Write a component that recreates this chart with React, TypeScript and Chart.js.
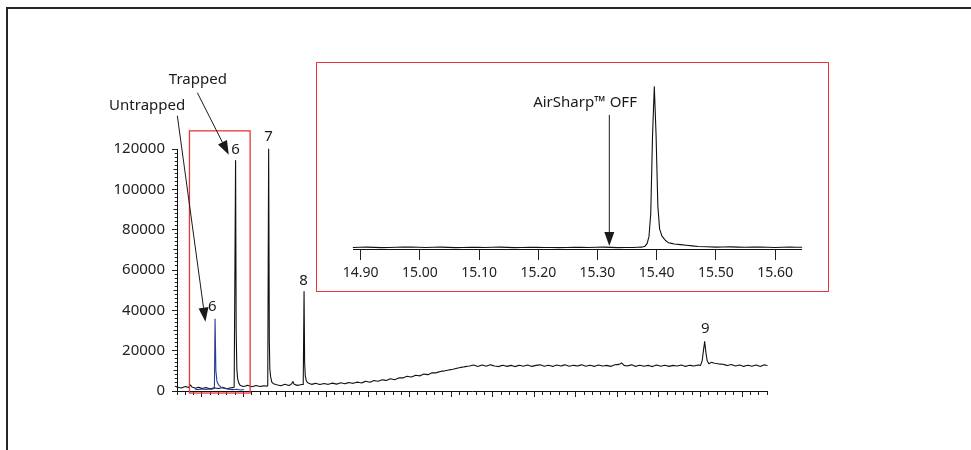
import { useEffect, useRef } from 'react';
import { Chart, registerables } from 'chart.js';
Chart.register(...registerables);

// ---- Main chromatogram (retention time, min / abundance) ----
const trappedTime = [
  14.70, 14.75, 14.80, 14.84, 14.86, 14.88, 14.92, 14.96, 15.00, 15.05, 15.10, 15.15, 15.20, 15.25, 15.30, 15.35, 15.388,
  15.405, 15.412, 15.42, 15.43, 15.445, 15.46,
  15.50, 15.55, 15.60, 15.65, 15.70, 15.75, 15.78,
  15.792, 15.803, 15.811, 15.817, 15.827, 15.84, 15.86,
  15.90, 15.95, 16.00, 16.05, 16.08, 16.095, 16.11, 16.15, 16.20,
  16.219, 16.229, 16.236, 16.244, 16.255, 16.268, 16.28,
  16.32, 16.37, 16.42, 16.47, 16.52, 16.57, 16.62, 16.67, 16.72, 16.77, 16.82, 16.87, 16.92, 16.97,
  17.02, 17.07, 17.12, 17.17, 17.22, 17.27, 17.32, 17.37, 17.42, 17.47, 17.52, 17.57, 17.62, 17.67, 17.72, 17.77,
  17.82, 17.87, 17.92, 17.97, 18.02, 18.07, 18.12, 18.17, 18.22, 18.27, 18.32, 18.37, 18.42, 18.47, 18.52, 18.57,
  18.62, 18.67, 18.72, 18.77, 18.82, 18.87, 18.92, 18.97, 19.02, 19.07, 19.12, 19.17, 19.22, 19.27, 19.32, 19.37,
  19.42, 19.47, 19.52, 19.57, 19.62, 19.67, 19.72, 19.77, 19.82, 19.87, 19.92, 19.97, 20.02, 20.05, 20.08, 20.12,
  20.17, 20.22, 20.27, 20.32, 20.37, 20.42, 20.47, 20.52, 20.57, 20.62, 20.67, 20.72, 20.77, 20.82, 20.87, 20.92,
  20.97, 21.00, 21.02, 21.035, 21.05, 21.065, 21.08, 21.10, 21.13, 21.17, 21.22, 21.27, 21.32, 21.37, 21.42, 21.47,
  21.52, 21.57, 21.62, 21.67, 21.72, 21.77, 21.80,
];
const trappedSignal = [
  1900, 1500, 2200, 1700, 3100, 2000, 1400, 1900, 1200, 1700, 1100, 1600, 1200, 1800, 1100, 1600, 1800,
  114300, 30000, 11000, 6000, 3800, 2800,
  2200, 2800, 2100, 2700, 2200, 2600, 2400,
  2600, 120000, 25000, 11000, 7000, 4500, 3600,
  3100, 2600, 3300, 2700, 3600, 4700, 3300, 2800, 3200,
  3200, 49300, 14000, 7500, 5200, 4300, 4000,
  3300, 3800, 3200, 3700, 3300, 3900, 3400, 4100, 3600, 4200, 3800, 4400, 4000, 4800,
  4300, 5200, 4800, 5600, 5200, 6100, 5600, 6500, 6500, 7300, 6900, 7800, 7500, 8400, 8100, 9000,
  9000, 9700, 10000, 10400, 10800, 11300, 11700, 12100, 12400, 12900, 12200, 12900, 12300, 13000, 12400, 12100,
  12800, 12200, 12700, 12100, 12800, 12300, 12900, 12200, 12700, 13000, 12300, 12800, 12200, 12900, 12400, 13000,
  12300, 12800, 12400, 13000, 12300, 12800, 12200, 12900, 12400, 12700, 12200, 13000, 13200, 13900, 12700, 12400,
  13000, 12200, 12800, 12300, 12700, 12100, 12900, 12300, 12800, 12200, 12700, 12400, 12900, 12200, 12800, 12400,
  12900, 12700, 15000, 20000, 24500, 19000, 15000, 13500, 14200, 13800, 13400, 13300, 12600, 13100, 12400, 12900,
  12200, 12800, 12300, 12900, 12200, 13000, 12600,
];
const untrappedTime = [
  14.92, 14.95, 15.00, 15.05, 15.10, 15.13, 15.150, 15.158, 15.168, 15.18, 15.20, 15.23, 15.27, 15.32, 15.37, 15.42, 15.47, 15.50,
];
const untrappedSignal = [
  900, 700, 1000, 800, 900, 1000, 1200, 35700, 10000, 5000, 3000, 1900, 1300, 900, 700, 800, 500, 700,
];

// ---- Inset (zoom on trapped peak 6) ----
const insetTime = [
  14.8875, 14.91, 14.935, 14.96, 14.985, 15.01, 15.035, 15.06, 15.085, 15.11, 15.135, 15.16, 15.185, 15.21, 15.235,
  15.26, 15.285, 15.31, 15.335, 15.36, 15.375, 15.38, 15.384, 15.387, 15.39, 15.393, 15.396, 15.399, 15.402, 15.405,
  15.409, 15.415, 15.42, 15.43, 15.45, 15.47, 15.50, 15.525, 15.55, 15.575, 15.60, 15.625, 15.645,
];
const insetSignal = [
  1100, 1300, 1000, 1200, 1400, 1100, 1300, 1000, 1200, 1100, 1300, 1000, 1200, 1100, 1000,
  1200, 1100, 1300, 1000, 1100, 1300, 1800, 4000, 8700, 25000, 80000, 114300, 80000, 30000, 14000,
  9000, 6000, 4400, 3500, 2600, 1800, 1300, 1500, 1200, 1400, 1100, 1300, 1200,
];
const insetTickValues = [14.9, 15.0, 15.1, 15.2, 15.3, 15.4, 15.5, 15.6];

// ---- Annotations ----
const peakLabelText = ['6', '6', '7', '8', '9'];
const peakLabelTime = [15.126, 15.404, 15.803, 16.222, 21.056];
const peakLabelSignal = [41700, 119600, 126000, 54600, 30800];

const calloutText = ['Trapped', 'Untrapped'];
const calloutTime = [14.951, 14.341];
const calloutSignal = [154300, 141400];
const arrowFromTime = [14.945, 14.704];
const arrowFromSignal = [147900, 136500];
const arrowToTime = [15.323, 15.042];
const arrowToSignal = [117100, 34400];

const zoomBoxTime = [14.85, 15.58];
const zoomBoxSignal = [-1000, 129000];

const insetNote = 'AirSharp™ OFF';
const insetNoteTime = 15.279;
const insetNoteSignal = 103000;
const insetArrowTime = 15.32;
const insetArrowSignal = [94400, 2100];

const FONT = '"Noto Sans", "Open Sans", sans-serif';
const RED = '#e8373c';
const INK = '#1a1a1a';

function drawArrow(ctx: CanvasRenderingContext2D, x1: number, y1: number, x2: number, y2: number) {
  const headLen = 14;
  const half = 5;
  const a = Math.atan2(y2 - y1, x2 - x1);
  const bx = x2 - headLen * Math.cos(a);
  const by = y2 - headLen * Math.sin(a);
  ctx.beginPath();
  ctx.moveTo(x1, y1);
  ctx.lineTo(bx, by);
  ctx.stroke();
  ctx.beginPath();
  ctx.moveTo(x2, y2);
  ctx.lineTo(bx + half * Math.sin(a), by - half * Math.cos(a));
  ctx.lineTo(bx - half * Math.sin(a), by + half * Math.cos(a));
  ctx.closePath();
  ctx.fill();
}

const zip = (t: number[], v: number[]) => t.map((x, i) => ({ x, y: v[i] }));

const mainAnnotations = {
  id: 'mainAnnotations',
  afterDatasetsDraw(chart: any) {
    const { ctx } = chart;
    const xs = chart.scales.x;
    const ys = chart.scales.y;
    ctx.save();
    ctx.strokeStyle = RED;
    ctx.lineWidth = 1.3;
    const bx1 = xs.getPixelForValue(zoomBoxTime[0]);
    const bx2 = xs.getPixelForValue(zoomBoxTime[1]);
    const by1 = ys.getPixelForValue(zoomBoxSignal[1]);
    const by2 = ys.getPixelForValue(zoomBoxSignal[0]);
    ctx.strokeRect(bx1, by1, bx2 - bx1, by2 - by1);
    ctx.fillStyle = INK;
    ctx.font = `15px ${FONT}`;
    ctx.textAlign = 'center';
    ctx.textBaseline = 'middle';
    peakLabelText.forEach((t, i) => {
      ctx.fillText(t, xs.getPixelForValue(peakLabelTime[i]), ys.getPixelForValue(peakLabelSignal[i]));
    });
    calloutText.forEach((t, i) => {
      ctx.fillText(t, xs.getPixelForValue(calloutTime[i]), ys.getPixelForValue(calloutSignal[i]));
    });
    ctx.strokeStyle = INK;
    ctx.lineWidth = 1;
    arrowFromTime.forEach((_, i) => {
      drawArrow(
        ctx,
        xs.getPixelForValue(arrowFromTime[i]),
        ys.getPixelForValue(arrowFromSignal[i]),
        xs.getPixelForValue(arrowToTime[i]),
        ys.getPixelForValue(arrowToSignal[i])
      );
    });
    ctx.restore();
  },
};

const insetAnnotations = {
  id: 'insetAnnotations',
  afterDatasetsDraw(chart: any) {
    const { ctx } = chart;
    const xs = chart.scales.x;
    const ys = chart.scales.y;
    ctx.save();
    ctx.fillStyle = INK;
    ctx.strokeStyle = INK;
    ctx.lineWidth = 1;
    ctx.font = `15px ${FONT}`;
    ctx.textAlign = 'center';
    ctx.textBaseline = 'middle';
    ctx.fillText(insetNote, xs.getPixelForValue(insetNoteTime), ys.getPixelForValue(insetNoteSignal));
    const ax = xs.getPixelForValue(insetArrowTime);
    drawArrow(ctx, ax, ys.getPixelForValue(insetArrowSignal[0]), ax, ys.getPixelForValue(insetArrowSignal[1]));
    ctx.restore();
  },
};

// a tiny non-zero tension keeps Chart.js off its pixel-binning fast path,
// so narrow peaks are drawn as clean straight segments
const lineStyle = {
  borderWidth: 1.1,
  pointRadius: 0,
  tension: 0.00001,
  clip: false,
  borderJoinStyle: 'round',
  borderCapStyle: 'round',
};

export default function App() {
  const mainRef = useRef<HTMLCanvasElement>(null);
  const insetRef = useRef<HTMLCanvasElement>(null);

  useEffect(() => {
    document.body.style.margin = '0';
    const mainXTicks: number[] = [];
    for (let i = 147; i <= 218; i++) mainXTicks.push(i / 10);
    const mainYTicks: number[] = [];
    for (let v = 0; v <= 120000; v += 2000) mainYTicks.push(v);

    const main = new Chart(mainRef.current!, {
      type: 'line',
      data: {
        datasets: [
          { data: zip(untrappedTime, untrappedSignal), borderColor: '#2b3a9a', ...lineStyle } as any,
          { data: zip(trappedTime, trappedSignal), borderColor: '#111111', ...lineStyle } as any,
        ],
      },
      options: {
        animation: false,
        responsive: false,
        maintainAspectRatio: false,
        layout: { padding: { left: 0, top: 149, right: 204, bottom: 49 } },
        plugins: { legend: { display: false }, tooltip: { enabled: false } },
        scales: {
          x: {
            type: 'linear',
            min: 14.7,
            max: 21.8,
            afterFit: (s: any) => { s.height = 10; },
            afterBuildTicks: (s: any) => { s.ticks = mainXTicks.map((value) => ({ value })); },
            ticks: { display: false, autoSkip: false },
            grid: {
              drawOnChartArea: false,
              drawTicks: true,
              tickLength: 6,
              tickColor: '#222',
              tickWidth: 1,
              tickBorderDash: (c: any) => {
                const v = c.tick ? c.tick.value : 0;
                return Math.abs(v * 2 - Math.round(v * 2)) < 1e-6 ? [] : [3, 100];
              },
            },
            border: { display: true, color: '#111', width: 1 },
          },
          y: {
            type: 'linear',
            min: 0,
            max: 120000,
            afterFit: (s: any) => { s.width = 177; },
            afterBuildTicks: (s: any) => { s.ticks = mainYTicks.map((value) => ({ value })); },
            ticks: {
              autoSkip: false,
              padding: 7,
              color: '#222',
              font: { family: FONT, size: 15 },
              callback: (v: any) => (Number(v) % 20000 === 0 ? String(v) : ''),
            },
            grid: {
              drawOnChartArea: false,
              drawTicks: true,
              tickLength: 5,
              tickColor: '#222',
              tickWidth: 1,
              tickBorderDash: (c: any) => {
                const v = c.tick ? c.tick.value : 0;
                if (v % 20000 === 0) return [];
                if (v % 10000 === 0) return [0, 1.5, 3.5, 100];
                return [0, 2.8, 2.2, 100];
              },
            },
            border: { display: true, color: '#111', width: 1 },
          },
        },
      },
      plugins: [mainAnnotations],
    });

    const inset = new Chart(insetRef.current!, {
      type: 'line',
      data: {
        datasets: [{ data: zip(insetTime, insetSignal), borderColor: '#111111', ...lineStyle } as any],
      },
      options: {
        animation: false,
        responsive: false,
        maintainAspectRatio: false,
        layout: { padding: { left: 36.3, top: 17, right: 26.3, bottom: 0 } },
        plugins: { legend: { display: false }, tooltip: { enabled: false } },
        scales: {
          x: {
            type: 'linear',
            min: 14.8875,
            max: 15.645,
            afterFit: (s: any) => { s.height = 42; },
            afterBuildTicks: (s: any) => { s.ticks = insetTickValues.map((value) => ({ value })); },
            ticks: {
              autoSkip: false,
              maxRotation: 0,
              padding: 5,
              color: '#222',
              font: { family: FONT, size: 14 },
              callback: (v: any) => Number(v).toFixed(2),
            },
            grid: { drawOnChartArea: false, drawTicks: true, tickLength: 11, tickColor: '#222', tickWidth: 1 },
            border: { display: true, color: '#111', width: 1 },
          },
          y: { type: 'linear', min: 0, max: 119000, display: false },
        },
      },
      plugins: [insetAnnotations],
    });

    return () => {
      main.destroy();
      inset.destroy();
    };
  }, []);

  return (
    <div style={{ position: 'relative', width: 971, height: 450, overflow: 'hidden', background: '#fff' }}>
      <div
        style={{
          position: 'absolute', left: 6, top: 7, width: 990, height: 470,
          border: '2px solid #262626', boxSizing: 'border-box',
        }}
      />
      <canvas ref={mainRef} width={971} height={450} style={{ position: 'absolute', left: 0, top: 0 }} />
      <div
        style={{
          position: 'absolute', left: 316, top: 62, width: 513, height: 230,
          border: `1px solid ${RED}`, boxSizing: 'border-box', background: '#fff',
        }}
      />
      <canvas ref={insetRef} width={511} height={228} style={{ position: 'absolute', left: 317, top: 63 }} />
    </div>
  );
}
